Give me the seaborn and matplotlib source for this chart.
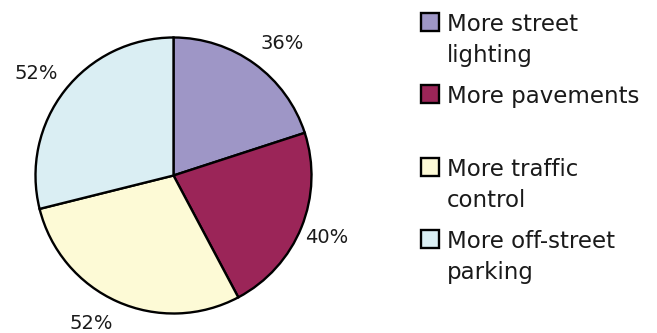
import numpy as np
import matplotlib
matplotlib.use("Agg")
import matplotlib.pyplot as plt
from matplotlib.patches import Rectangle
import seaborn as sns

# Survey responses: share of respondents wanting each improvement
categories = ["More street lighting", "More pavements", "More traffic control", "More off-street parking"]
legend_lines = [["More street", "lighting"], ["More pavements"], ["More traffic", "control"], ["More off-street", "parking"]]
values = [36, 40, 52, 52]
pct_labels = ["36%", "40%", "52%", "52%"]
colors = ["#9E96C6", "#9B2558", "#FDFAD6", "#DAEEF3"]

sns.set_theme(style="white")
plt.rcParams["font.family"] = ["DejaVu Sans"]

W, H = 657, 333
fig = plt.figure(figsize=(W / 100, H / 100), dpi=100)
fig.patch.set_facecolor("white")

# Pie placed in a square axes (pixel geometry)
cx, cy, R = 173.5, 175.5, 138.0
ax = fig.add_axes([(cx - R) / W, (H - cy - R) / H, 2 * R / W, 2 * R / H])
wedges, _ = ax.pie(values, colors=colors, startangle=90, counterclock=False,
                   radius=1.0,
                   wedgeprops=dict(edgecolor="black", linewidth=1.7))
ax.set_xlim(-1, 1)
ax.set_ylim(-1, 1)
ax.set_aspect("equal")
ax.axis("off")

# Percentage labels outside the slices
label_r = [1.235, 1.20, 1.225, 1.24]
angle_nudge = [-3.5, 0.0, -5.0, 1.5]
for w, txt, r, dn in zip(wedges, pct_labels, label_r, angle_nudge):
    mid = np.deg2rad((w.theta1 + w.theta2) / 2 + dn)
    ax.text(r * np.cos(mid), r * np.sin(mid), txt, ha="center", va="center",
            fontsize=14, color="#1a1a1a", clip_on=False)

# Legend drawn row by row
first_baselines = [31, 103, 176, 248]
line_step = 31
box_x, box_w = 421, 18
text_x = 447
for lines, col, base in zip(legend_lines, colors, first_baselines):
    top = base - 18
    fig.patches.append(Rectangle((box_x / W, (H - top - box_w) / H), box_w / W, box_w / H,
                                 transform=fig.transFigure, facecolor=col,
                                 edgecolor="black", linewidth=1.7))
    for i, line in enumerate(lines):
        fig.text(text_x / W, (H - (base + i * line_step)) / H, line,
                 ha="left", va="baseline", fontsize=16.5, color="#1a1a1a")

fig.savefig("out.png", dpi=100, facecolor="white")
